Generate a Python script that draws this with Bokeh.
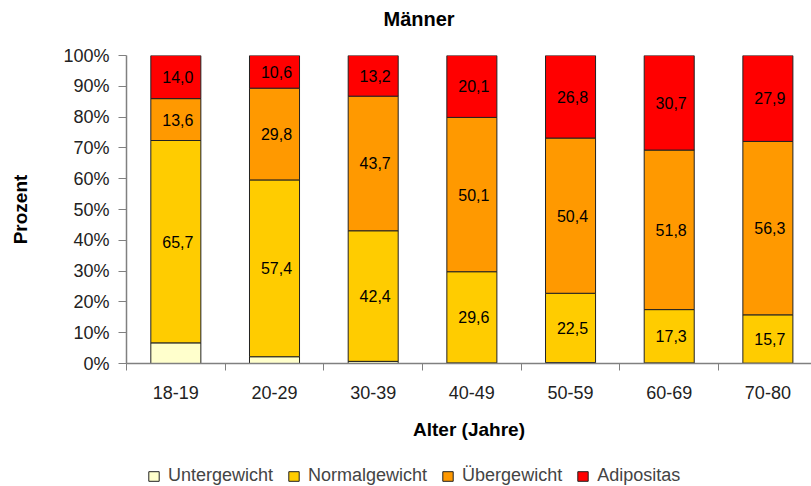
from bokeh.plotting import figure
from bokeh.models import (ColumnDataSource, Range1d, FixedTicker, Legend, LegendItem,
                          LabelSet, Title)
from bokeh.layouts import column
from bokeh.core.properties import value
from bokeh.embed import file_html
from bokeh.resources import INLINE

categories = ["18-19", "20-29", "30-39", "40-49", "50-59", "60-69", "70-80"]
untergewicht = [6.7, 2.2, 0.7, 0.2, 0.3, 0.2, 0.1]
normalgewicht = [65.7, 57.4, 42.4, 29.6, 22.5, 17.3, 15.7]
uebergewicht = [13.6, 29.8, 43.7, 50.1, 50.4, 51.8, 56.3]
adipositas = [14.0, 10.6, 13.2, 20.1, 26.8, 30.7, 27.9]
y_ticks = [0, 10, 20, 30, 40, 50, 60, 70, 80, 90, 100]

series_names = ["Untergewicht", "Normalgewicht", "Übergewicht", "Adipositas"]
colors = ["#FFFFCC", "#FFCC00", "#FF9900", "#FF0000"]

FONT = "Liberation Sans"

xs = [i + 0.5 for i in range(len(categories))]
data = dict(x=xs, u=untergewicht, n=normalgewicht, o=uebergewicht, a=adipositas)

def fmt(v):
    return f"{v:.1f}".replace(".", ",")

lab_x, lab_y, lab_t = [], [], []
for i in range(len(categories)):
    b0 = untergewicht[i]
    b1 = b0 + normalgewicht[i]
    b2 = b1 + uebergewicht[i]
    b3 = b2 + adipositas[i]
    for lo, hi, v in [(b0, b1, normalgewicht[i]), (b1, b2, uebergewicht[i]), (b2, b3, adipositas[i])]:
        lab_x.append(xs[i] + 0.02)
        lab_y.append((lo + hi) / 2)
        lab_t.append(fmt(v))

src = ColumnDataSource(data)
lsrc = ColumnDataSource(dict(x=lab_x, y=lab_y, t=lab_t))

# title strip
pt = figure(width=811, height=40, output_backend="svg", toolbar_location=None,
            x_range=Range1d(0, 1), y_range=Range1d(0, 1), min_border=0,
            x_axis_location=None, y_axis_location=None)
pt.grid.grid_line_color = None
pt.outline_line_color = None
pt.add_layout(Title(text="Männer", align="left", offset=257, text_font=FONT,
                    text_font_size="20px", text_font_style="bold",
                    text_color="black", standoff=11), "above")

# main chart
p = figure(width=811, height=415, output_backend="svg", toolbar_location=None,
           x_range=Range1d(0, 6.942), y_range=Range1d(0, 100),
           min_border_left=126, min_border_right=0, min_border_top=15,
           min_border_bottom=92)
p.outline_line_color = None
p.grid.grid_line_color = None
p.background_fill_color = "white"

renderers = p.vbar_stack(["u", "n", "o", "a"], x="x", width=0.507, source=src,
                         color=colors, line_color="#222222", line_width=1)

labels = LabelSet(x="x", y="y", text="t", source=lsrc, text_align="center",
                  text_baseline="middle", text_font_size="16px", text_font=value(FONT),
                  text_color="black")
p.add_layout(labels)

p.yaxis.ticker = FixedTicker(ticks=y_ticks)
p.yaxis.major_label_overrides = {v: f"{v}%" for v in y_ticks}
p.yaxis.axis_line_color = "#808080"
p.yaxis.axis_line_width = 1.5
p.yaxis.major_tick_line_color = "#808080"
p.yaxis.major_tick_out = 8
p.yaxis.major_tick_in = 0
p.yaxis.minor_tick_line_color = None
p.yaxis.major_label_text_font = FONT
p.yaxis.major_label_text_font_size = "18px"
p.yaxis.major_label_text_color = "#222222"
p.yaxis.major_label_standoff = 9
p.yaxis.axis_label = "Prozent"
p.yaxis.axis_label_text_font = FONT
p.yaxis.axis_label_text_font_size = "19px"
p.yaxis.axis_label_text_font_style = "bold"
p.yaxis.axis_label_text_color = "black"
p.yaxis.axis_label_standoff = 29

p.xaxis.ticker = FixedTicker(ticks=xs, minor_ticks=list(range(len(categories) + 1)))
p.xaxis.major_label_overrides = {x: c for x, c in zip(xs, categories)}
p.xaxis.axis_line_color = "#808080"
p.xaxis.axis_line_width = 1.5
p.xaxis.major_tick_line_color = None
p.xaxis.minor_tick_line_color = "#808080"
p.xaxis.minor_tick_out = 7
p.xaxis.minor_tick_in = 0
p.xaxis.major_tick_out = 0
p.xaxis.major_tick_in = 0
p.xaxis.major_label_standoff = 15
p.xaxis.major_label_text_font = FONT
p.xaxis.major_label_text_font_size = "18px"
p.xaxis.major_label_text_color = "#222222"
p.xaxis.axis_label = "Alter (Jahre)"
p.xaxis.axis_label_text_font = FONT
p.xaxis.axis_label_text_font_size = "19px"
p.xaxis.axis_label_text_font_style = "bold"
p.xaxis.axis_label_text_color = "black"
p.xaxis.axis_label_standoff = 17

# legend strip (separate figure below the chart); hidden copies of the bars carry the swatches
pl = figure(width=811, height=31, output_backend="svg", toolbar_location=None,
            x_range=Range1d(0, 1), y_range=Range1d(0, 1), min_border=0,
            x_axis_location=None, y_axis_location=None)
pl.grid.grid_line_color = None
pl.outline_line_color = None
leg_renderers = pl.vbar_stack(["u", "n", "o", "a"], x="x", width=0.507, source=src,
                              color=colors, line_color="#222222", line_width=1)
for r in leg_renderers:
    r.visible = False
items = [LegendItem(label=n, renderers=[r]) for n, r in zip(series_names, leg_renderers)]
legend = Legend(items=items, orientation="horizontal", location=(21, 0),
                glyph_width=13, glyph_height=12, label_text_font=FONT,
                label_text_font_size="18px", label_standoff=8, spacing=14,
                border_line_color=None, background_fill_alpha=0, padding=0, margin=0,
                label_height=18, inactive_fill_alpha=0)
pl.add_layout(legend, "center")

layout = column(pt, p, pl, spacing=0)
open("out.html", "w").write(file_html(layout, INLINE))
